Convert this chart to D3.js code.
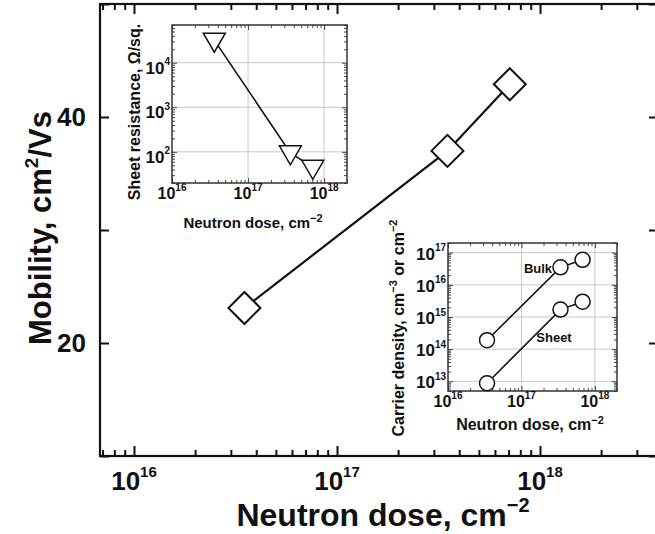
<!DOCTYPE html>
<html>
<head>
<meta charset="utf-8">
<script src="https://cdn.jsdelivr.net/npm/d3@7"></script>
<style>
  body { margin: 0; background: #fff; }
  text { font-family: "Liberation Sans", Arial, sans-serif; font-weight: bold; fill: #111; }
</style>
</head>
<body>
<div id="chart"></div>
<script>
// Main panel: mobility vs neutron dose
const doseMain = [3.5e16, 3.5e17, 7.1e17];
const mobility = [23.1, 37.0, 42.9];
const mobilityTicks = [10, 20, 30, 40, 50];
const mobilityLabels = [20, 40];

// Top-left inset: sheet resistance
const doseSheetRes = [3.6e16, 3.6e17, 7.1e17];
const sheetRes = [3.2e4, 95, 45];

// Bottom-right inset: carrier density
const doseCarrier = [3.4e16, 3.4e17, 6.8e17];
const bulkDensity = [1.9e14, 3.5e16, 6.0e16];
const sheetDensity = [8.7e12, 1.7e15, 3.0e15];

const svgWidth = 655;
const svgHeight = 534;

const svg = d3.select("#chart")
  .append("svg")
  .attr("width", svgWidth)
  .attr("height", svgHeight);

// log ticks inside a domain
function logTicks(scale) {
  const [d0, d1] = scale.domain();
  const major = [], minor = [];
  for (let k = Math.floor(Math.log10(d0)); k <= Math.ceil(Math.log10(d1)); k++) {
    for (let m = 1; m < 10; m++) {
      const v = m * Math.pow(10, k);
      if (v < d0 * 0.999 || v > d1 * 1.001) continue;
      if (m === 1) major.push(v); else minor.push(v);
    }
  }
  return { major, minor };
}

// "10" with superscript exponent
function powText(sel, exp, size, supSize) {
  sel.style("font-size", size + "px");
  sel.append("tspan").text("10");
  sel.append("tspan").attr("dy", -0.5 * size).style("font-size", supSize + "px").text(exp);
}

function drawTicks(g, axisFn, scale, values, len, transform, color, width) {
  g.append("g")
    .attr("transform", transform)
    .call(axisFn(scale).tickValues(values).tickSize(-len).tickSizeOuter(0).tickFormat(""))
    .call(a => a.select(".domain").remove())
    .call(a => a.selectAll("line").attr("stroke", color).attr("stroke-width", width));
}

// ---------------- main panel ----------------
const main = { left: 100, right: 658, top: 4, bottom: 456 };

const xRef = d3.scaleLog().domain([1e16, 1e18]).range([134, 540]);
const xMain = d3.scaleLog()
  .domain([xRef.invert(main.left), xRef.invert(main.right)])
  .range([main.left, main.right]);
const yMain = d3.scaleLinear().domain([10, 50]).range([main.bottom, main.top]);

const mainG = svg.append("g");
const mt = logTicks(xMain);

drawTicks(mainG, d3.axisBottom, xMain, mt.major, 10, `translate(0,${main.bottom})`, "#111", 2);
drawTicks(mainG, d3.axisBottom, xMain, mt.minor, 6, `translate(0,${main.bottom})`, "#111", 2);
drawTicks(mainG, d3.axisTop, xMain, mt.major, 10, `translate(0,${main.top})`, "#111", 2);
drawTicks(mainG, d3.axisTop, xMain, mt.minor, 6, `translate(0,${main.top})`, "#111", 2);
drawTicks(mainG, d3.axisLeft, yMain, mobilityTicks, 9, `translate(${main.left},0)`, "#111", 2);
drawTicks(mainG, d3.axisRight, yMain, mobilityTicks, 9, `translate(${main.right},0)`, "#111", 2);

mainG.append("rect")
  .attr("x", main.left).attr("y", main.top)
  .attr("width", main.right - main.left).attr("height", main.bottom - main.top)
  .attr("fill", "none").attr("stroke", "#111").attr("stroke-width", 2.2);

mt.major.forEach(v => {
  mainG.append("text")
    .attr("x", xMain(v)).attr("y", 490)
    .attr("text-anchor", "middle")
    .call(powText, String(Math.round(Math.log10(v))), 26, 15);
});

mobilityLabels.forEach(v => {
  mainG.append("text")
    .attr("x", 86).attr("y", yMain(v)).attr("dy", "0.36em")
    .attr("text-anchor", "end")
    .style("font-size", "26px")
    .text(v);
});

// axis titles
const xTitle = mainG.append("text")
  .attr("x", 383).attr("y", 526)
  .attr("text-anchor", "middle")
  .style("font-size", "32px");
xTitle.append("tspan").text("Neutron dose, cm");
xTitle.append("tspan").attr("dy", -14).style("font-size", "20px").text("\u22122");

const yTitle = mainG.append("text")
  .attr("transform", "translate(51,228) rotate(-90)")
  .attr("text-anchor", "middle")
  .style("font-size", "31px");
yTitle.append("tspan").text("Mobility, cm");
yTitle.append("tspan").attr("dy", -13).style("font-size", "19px").text("2");
yTitle.append("tspan").attr("dy", 13).text("/Vs");

// mobility line + diamonds
const mainPts = doseMain.map((d, i) => [d, mobility[i]]);
mainG.append("path")
  .datum(mainPts)
  .attr("fill", "none").attr("stroke", "#111").attr("stroke-width", 2.2)
  .attr("d", d3.line().x(d => xMain(d[0])).y(d => yMain(d[1])));

mainG.selectAll("path.diamond")
  .data(mainPts)
  .enter().append("path")
  .attr("class", "diamond")
  .attr("transform", d => `translate(${xMain(d[0])},${yMain(d[1])})`)
  .attr("d", "M0,-16L16,0L0,16L-16,0Z")
  .attr("fill", "#fff").attr("stroke", "#111").attr("stroke-width", 2);

// ---------------- inset helper ----------------
function drawInset(box, yDomain, labelDy) {
  const g = svg.append("g");
  const x = d3.scaleLog().domain([1e16, 2e18]).range([box.left, box.right]);
  const y = d3.scaleLog().domain(yDomain).range([box.bottom, box.top]);
  const xt = logTicks(x), yt = logTicks(y);

  g.append("rect")
    .attr("x", box.left).attr("y", box.top)
    .attr("width", box.right - box.left).attr("height", box.bottom - box.top)
    .attr("fill", "#fff");

  // grid
  g.selectAll("line.vgrid").data(xt.major.filter(v => x(v) > box.left + 1))
    .enter().append("line")
    .attr("x1", d => x(d)).attr("x2", d => x(d))
    .attr("y1", box.top).attr("y2", box.bottom)
    .attr("stroke", "#c8c8c8").attr("stroke-width", 1);
  g.selectAll("line.hgrid").data(yt.major)
    .enter().append("line")
    .attr("y1", d => y(d)).attr("y2", d => y(d))
    .attr("x1", box.left).attr("x2", box.right)
    .attr("stroke", "#c8c8c8").attr("stroke-width", 1);

  const c = "#444";
  drawTicks(g, d3.axisBottom, x, xt.major, 5, `translate(0,${box.bottom})`, c, 1);
  drawTicks(g, d3.axisBottom, x, xt.minor, 3, `translate(0,${box.bottom})`, c, 1);
  drawTicks(g, d3.axisTop, x, xt.major, 5, `translate(0,${box.top})`, c, 1);
  drawTicks(g, d3.axisTop, x, xt.minor, 3, `translate(0,${box.top})`, c, 1);
  drawTicks(g, d3.axisLeft, y, yt.major, 5, `translate(${box.left},0)`, c, 1);
  drawTicks(g, d3.axisLeft, y, yt.minor, 3, `translate(${box.left},0)`, c, 1);
  drawTicks(g, d3.axisRight, y, yt.major, 5, `translate(${box.right},0)`, c, 1);
  drawTicks(g, d3.axisRight, y, yt.minor, 3, `translate(${box.right},0)`, c, 1);

  g.append("rect")
    .attr("x", box.left).attr("y", box.top)
    .attr("width", box.right - box.left).attr("height", box.bottom - box.top)
    .attr("fill", "none").attr("stroke", "#333").attr("stroke-width", 1.5);

  xt.major.forEach(v => {
    g.append("text")
      .attr("x", x(v)).attr("y", box.bottom + 16)
      .attr("text-anchor", "middle")
      .call(powText, String(Math.round(Math.log10(v))), 16, 10);
  });
  yt.major.forEach(v => {
    g.append("text")
      .attr("x", box.left - 2).attr("y", y(v) + labelDy)
      .attr("text-anchor", "end")
      .call(powText, String(Math.round(Math.log10(v))), 17, 10);
  });
  return { g, x, y };
}

// ---------------- inset 1: sheet resistance ----------------
const in1 = drawInset({ left: 172, right: 347, top: 25, bottom: 183 }, [20, 7e4], 11);
const resPts = doseSheetRes.map((d, i) => [d, sheetRes[i]]);
in1.g.append("path").datum(resPts)
  .attr("fill", "none").attr("stroke", "#111").attr("stroke-width", 1.6)
  .attr("d", d3.line().x(d => in1.x(d[0])).y(d => in1.y(d[1])));
in1.g.selectAll("path.tri").data(resPts)
  .enter().append("path")
  .attr("transform", d => `translate(${in1.x(d[0])},${in1.y(d[1])})`)
  .attr("d", "M-11,-7L11,-7L0,12Z")
  .attr("fill", "#fff").attr("stroke", "#111").attr("stroke-width", 1.5);

const t1y = in1.g.append("text")
  .attr("transform", "translate(140,112) rotate(-90)")
  .attr("text-anchor", "middle").style("font-size", "16px")
  .text("Sheet resistance, \u03A9/sq.");
const t1x = in1.g.append("text")
  .attr("x", 253).attr("y", 228).attr("text-anchor", "middle").style("font-size", "15px");
t1x.append("tspan").text("Neutron dose, cm");
t1x.append("tspan").attr("dy", -6).style("font-size", "11px").text("\u22122");

// ---------------- inset 2: carrier density ----------------
const in2 = drawInset({ left: 448, right: 617, top: 243, bottom: 391 }, [5e12, 2e17], 7);
[bulkDensity, sheetDensity].forEach(series => {
  const pts = doseCarrier.map((d, i) => [d, series[i]]);
  in2.g.append("path").datum(pts)
    .attr("fill", "none").attr("stroke", "#111").attr("stroke-width", 1.6)
    .attr("d", d3.line().x(d => in2.x(d[0])).y(d => in2.y(d[1])));
  in2.g.selectAll(null).data(pts)
    .enter().append("circle")
    .attr("cx", d => in2.x(d[0])).attr("cy", d => in2.y(d[1])).attr("r", 7.5)
    .attr("fill", "#fff").attr("stroke", "#111").attr("stroke-width", 1.5);
});

in2.g.append("text").attr("x", 538).attr("y", 273)
  .attr("text-anchor", "middle").style("font-size", "13px").text("Bulk");
in2.g.append("text").attr("x", 554).attr("y", 342)
  .attr("text-anchor", "middle").style("font-size", "13px").text("Sheet");

const t2y = in2.g.append("text")
  .attr("transform", "translate(404,328) rotate(-90)")
  .attr("text-anchor", "middle").style("font-size", "16px");
t2y.append("tspan").text("Carrier density, cm");
t2y.append("tspan").attr("dy", -7).style("font-size", "11px").text("\u22123");
t2y.append("tspan").attr("dy", 7).text(" or cm");
t2y.append("tspan").attr("dy", -7).style("font-size", "11px").text("\u22122");

const t2x = in2.g.append("text")
  .attr("x", 530).attr("y", 430).attr("text-anchor", "middle").style("font-size", "16px");
t2x.append("tspan").text("Neutron dose, cm");
t2x.append("tspan").attr("dy", -6).style("font-size", "11px").text("\u22122");
</script>
</body>
</html>
